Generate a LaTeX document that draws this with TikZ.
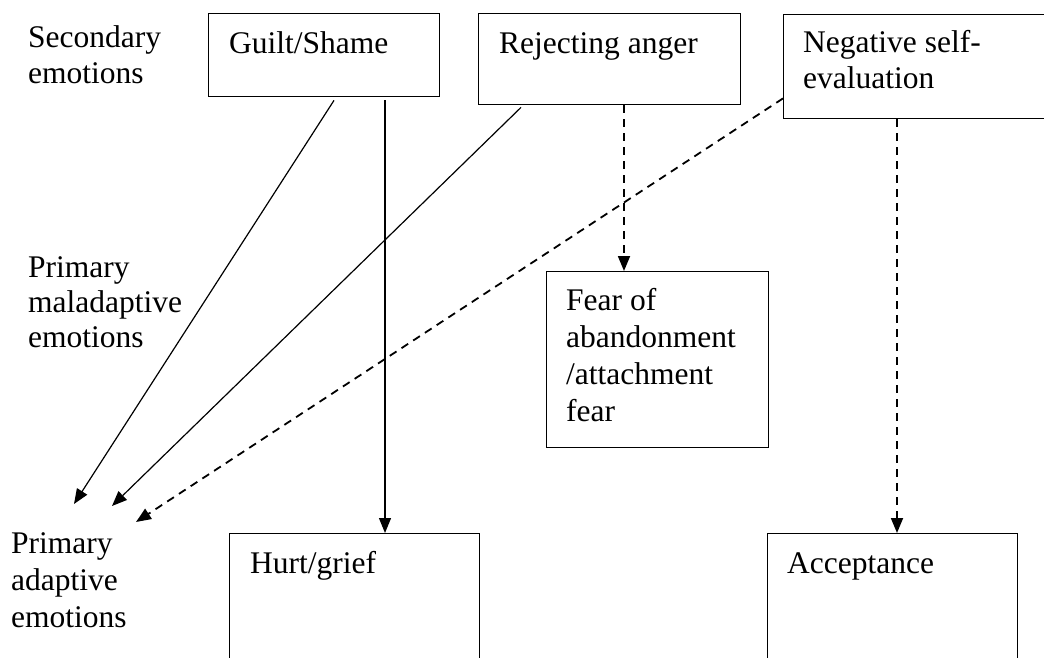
\documentclass[tikz,border=0pt]{standalone}
\usepackage{fontspec}
\setmainfont{Liberation Serif}
\usetikzlibrary{arrows.meta}
\tikzset{
  box/.style={draw, line width=1.4pt, inner sep=0pt, anchor=north west},
  lbl/.style={anchor=base west, inner sep=0pt, align=left, font=\fontsize{31.5}{36}\selectfont},
  arr/.style={line width=1.2pt, -{Triangle[length=15pt,width=12pt]}},
  darr/.style={line width=1.8pt, dash pattern=on 8pt off 6pt, -{Triangle[length=15pt,width=12pt]}}
}
\begin{document}
\begin{tikzpicture}[x=1pt,y=-1pt]
\useasboundingbox (0,0) rectangle (1044,658);
\clip (0,0) rectangle (1044,658);
% side labels (base = baseline of last line)
\node[lbl] (sec) at (28,84) {Secondary\\emotions};
\node[lbl, font=\fontsize{31.5}{35}\selectfont] (mal) at (28,347) {Primary\\maladaptive\\emotions};
\node[lbl, font=\fontsize{31.5}{37}\selectfont] (ada) at (11,627) {Primary\\adaptive\\emotions};
% boxes
\node[box, minimum width=231pt, minimum height=83pt] (guilt) at (208,13) {};
\node[box, minimum width=262pt, minimum height=91pt] (reject) at (478,13) {};
\node[box, minimum width=280pt, minimum height=104pt] (neg) at (783,14) {};
\node[box, minimum width=222pt, minimum height=176pt] (fear) at (546,271) {};
\node[box, minimum width=250pt, minimum height=160pt] (hurt) at (229,533) {};
\node[box, minimum width=250pt, minimum height=160pt] (acc) at (767,533) {};
% box texts
\node[lbl] (guiltT) at (229,54) {Guilt/Shame};
\node[lbl] (rejectT) at (499,54) {Rejecting anger};
\node[lbl] (negT) at (803,89) {Negative self-\\evaluation};
\node[lbl, font=\fontsize{31.5}{37}\selectfont] (fearT) at (566,421) {Fear of\\abandonment\\/attachment\\fear};
\node[lbl] (hurtT) at (250,573) {Hurt/grief};
\node[lbl] (accT) at (787,573) {Acceptance};
% free arrow ends
\coordinate (e1) at (74,504);
\coordinate (e2) at (112,506);
\coordinate (e3) at (136,522);
% connectors
\draw[arr] ([xshift=126pt,yshift=-3pt]guilt.south west) -- (e1);
\draw[arr] ([xshift=177pt,yshift=-3pt]guilt.south west) -- ([xshift=156pt]hurt.north west);
\draw[arr] ([xshift=43pt,yshift=-2pt]reject.south west) -- (e2);
\draw[darr] ([xshift=146pt]reject.south west) -- ([xshift=78pt]fear.north west);
\draw[darr] ([yshift=21pt]neg.south west) -- (e3);
\draw[darr] ([xshift=114pt]neg.south west) -- ([xshift=130pt]acc.north west);
\end{tikzpicture}
\end{document}
